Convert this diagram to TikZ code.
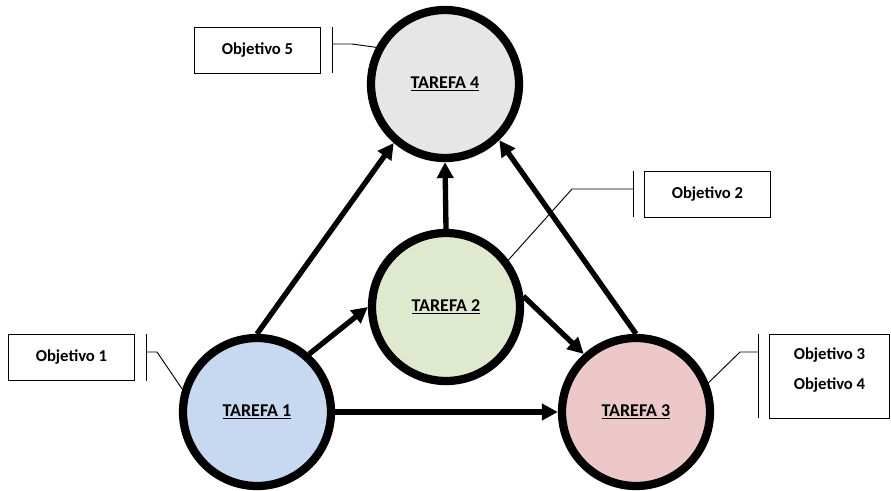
\documentclass[tikz,border=0pt]{standalone}
\usepackage{fontspec}
\setmainfont{Carlito}
\usetikzlibrary{arrows.meta}
\definecolor{cgray}{HTML}{E6E6E6}
\definecolor{cgreen}{HTML}{DFE9CD}
\definecolor{cblue}{HTML}{C6D9F0}
\definecolor{cpink}{HTML}{ECC9C8}
\tikzset{
  task/.style={circle, draw=black, line width=6.2pt, minimum size=111pt, inner sep=0pt, font=\bfseries\fontsize{13.5}{16}\selectfont},
  flow/.style={line width=4pt, -{Triangle[length=12pt,width=12pt]}},
  objbox/.style={draw=black, line width=0.7pt, font=\bfseries\fontsize{12.5}{15}\selectfont, inner sep=0pt},
  callout/.style={draw=black, line width=0.7pt},
}
\begin{document}
\begin{tikzpicture}[x=0.75pt,y=-0.75pt]
\useasboundingbox (0,0) rectangle (891,490);
% task circles
\node[task, fill=cgray]  (t4) at (445,84)  {\underline{TAREFA 4}};
\node[task, fill=cgreen] (t2) at (446,307) {\underline{TAREFA 2}};
\node[task, fill=cblue]  (t1) at (257,412) {\underline{TAREFA 1}};
\node[task, fill=cpink]  (t3) at (636,412) {\underline{TAREFA 3}};
% arrows
\draw[flow] (t1.north) -- (t4.229);
\draw[flow] (t3.north) -- (t4.314);
\draw[flow] (t2.north) -- (t4.south);
\draw[flow] (t1.48) -- (t2.180);
\draw[flow] (t2.8) -- (t3.132);
\draw[flow] (t1.east) -- (t3.west);
% objective boxes
\node[objbox, minimum width=126*0.75pt, minimum height=46*0.75pt, anchor=north west] (o5) at (194,27) {Objetivo 5};
\node[objbox, minimum width=126*0.75pt, minimum height=46*0.75pt, anchor=north west] (o2) at (644,171) {Objetivo 2};
\node[objbox, minimum width=126*0.75pt, minimum height=46*0.75pt, anchor=north west] (o1) at (8,334) {Objetivo 1};
\node[objbox, minimum width=120*0.75pt, minimum height=84*0.75pt, anchor=north west, align=center, text depth=12pt] (o34) at (769,334) {Objetivo 3\\[8pt]Objetivo 4};
% callouts
\coordinate (b5t) at (332,27); \coordinate (b5b) at (332,73);
\coordinate (b5a) at (332,44); \coordinate (b5k) at (352,44);
\draw[callout] (b5t) -- (b5b);
\draw[callout] (b5a) -- (b5k) -- (t4.152);

\coordinate (b2t) at (633,171); \coordinate (b2b) at (633,217);
\coordinate (b2a) at (633,189); \coordinate (b2k) at (572,189);
\draw[callout] (b2t) -- (b2b);
\draw[callout] (b2a) -- (b2k) -- (t2.37);

\coordinate (b1t) at (146,334); \coordinate (b1b) at (146,381);
\coordinate (b1a) at (146,352); \coordinate (b1k) at (157,352);
\draw[callout] (b1t) -- (b1b);
\draw[callout] (b1a) -- (b1k) -- (t1.163);

\coordinate (b3t) at (758,334); \coordinate (b3b) at (758,418);
\coordinate (b3a) at (758,352); \coordinate (b3k) at (740,352);
\draw[callout] (b3t) -- (b3b);
\draw[callout] (b3a) -- (b3k) -- (t3.22);
\end{tikzpicture}
\end{document}
